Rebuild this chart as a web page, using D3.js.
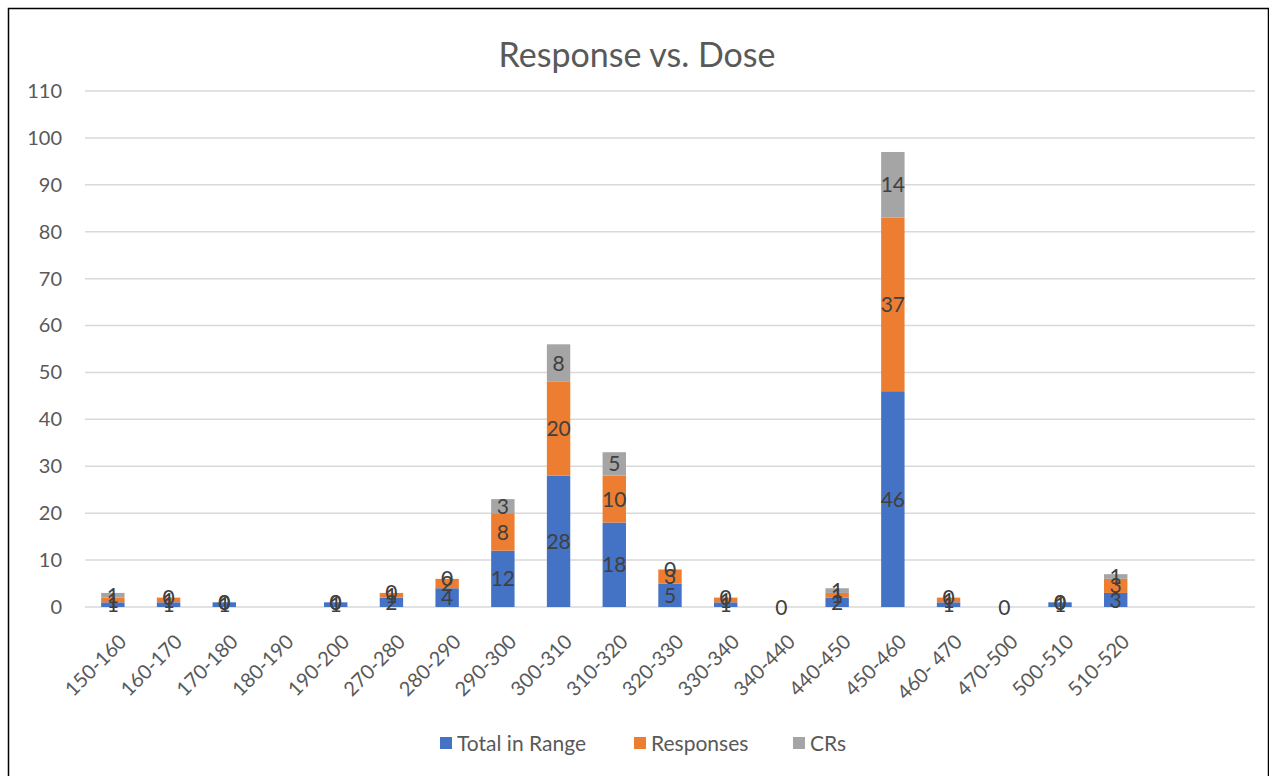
<!DOCTYPE html>
<html>
<head>
<meta charset="utf-8">
<script src="https://cdn.jsdelivr.net/npm/d3@7"></script>
<style>
  body { margin: 0; background: #fff; }
  svg { display: block; font-family: Lato, "Open Sans", sans-serif; }
</style>
</head>
<body>
<div id="wrapper"></div>
<script>
// chart values
const categories = ["150-160", "160-170", "170-180", "180-190", "190-200", "270-280", "280-290",
    "290-300", "300-310", "310-320", "320-330", "330-340", "340-440", "440-450", "450-460",
    "460- 470", "470-500", "500-510", "510-520", "", ""]
const totalInRange = [1, 1, 1, null, 1, 2, 4, 12, 28, 18, 5, 1, 0, 2, 46, 1, 0, 1, 3, null, null]
const responses = [1, 1, 0, null, 0, 1, 2, 8, 20, 10, 3, 1, null, 1, 37, 1, null, 0, 3, null, null]
const crs = [1, 0, 0, null, 0, 0, 0, 3, 8, 5, 0, 0, null, 1, 14, 0, null, 0, 1, null, null]
const seriesNames = ["Total in Range", "Responses", "CRs"]
const seriesColors = ["#4472C4", "#ED7D31", "#A5A5A5"]
const yTicks = [0, 10, 20, 30, 40, 50, 60, 70, 80, 90, 100, 110]

const seriesValues = [totalInRange, responses, crs]

let dimensions = {
    width: 1269,
    height: 776,
    margin: { top: 91, right: 14, bottom: 169, left: 85 },
}
dimensions.boundedWidth = dimensions.width - dimensions.margin.left - dimensions.margin.right
dimensions.boundedHeight = dimensions.height - dimensions.margin.top - dimensions.margin.bottom

const wrapper = d3.select("#wrapper")
    .append("svg")
    .attr("width", dimensions.width)
    .attr("height", dimensions.height)

// outer frame
wrapper.append("rect")
    .attr("x", 8.5)
    .attr("y", 8.5)
    .attr("width", dimensions.width - 9)
    .attr("height", dimensions.height)
    .attr("fill", "#fff")
    .attr("stroke", "#000")
    .attr("stroke-width", 1.5)

wrapper.append("text")
    .attr("x", 637)
    .attr("y", 67)
    .attr("text-anchor", "middle")
    .attr("fill", "#595959")
    .style("font-size", "34px")
    .text("Response vs. Dose")

const bounds = wrapper.append("g")
    .attr("transform", `translate(${dimensions.margin.left},${dimensions.margin.top})`)

const xScale = d3.scaleBand()
    .domain(d3.range(categories.length))
    .range([0, dimensions.boundedWidth])
    .paddingInner(0.58)
    .paddingOuter(0.29)

const yScale = d3.scaleLinear()
    .domain([0, 110])
    .range([dimensions.boundedHeight, 0])

// gridlines
bounds.append("g")
    .selectAll("line")
    .data(yTicks)
    .join("line")
    .attr("x1", 0)
    .attr("x2", dimensions.boundedWidth)
    .attr("y1", d => yScale(d))
    .attr("y2", d => yScale(d))
    .attr("stroke", "#D9D9D9")
    .attr("stroke-width", 1.5)

// y axis labels
const yAxis = bounds.append("g")
    .call(d3.axisLeft(yScale).tickValues(yTicks).tickSize(0).tickPadding(23))
yAxis.select(".domain").remove()
yAxis.selectAll("text")
    .attr("fill", "#595959")
    .style("font-size", "20px")
    .style("font-family", "Lato, sans-serif")

// stacked segments
const rows = categories.map((c, i) => {
    let base = 0
    return seriesValues.map((vals, s) => {
        const v = vals[i]
        const seg = { cat: i, s, v, y0: base, y1: base + (v || 0) }
        base = seg.y1
        return seg
    })
})
const segments = rows.flat()

bounds.append("g")
    .selectAll("rect")
    .data(segments.filter(d => d.v))
    .join("rect")
    .attr("x", d => xScale(d.cat))
    .attr("width", xScale.bandwidth())
    .attr("y", d => yScale(d.y1))
    .attr("height", d => yScale(d.y0) - yScale(d.y1))
    .attr("fill", d => seriesColors[d.s])

// data labels
bounds.append("g")
    .selectAll("text")
    .data(segments.filter(d => d.v !== null))
    .join("text")
    .attr("x", d => xScale(d.cat) + xScale.bandwidth() / 2)
    .attr("y", d => yScale((d.y0 + d.y1) / 2))
    .attr("dy", "0.36em")
    .attr("text-anchor", "middle")
    .attr("fill", "#404040")
    .style("font-size", "21px")
    .text(d => d.v)

// x axis labels
const xAxis = bounds.append("g")
    .attr("transform", `translate(0,${dimensions.boundedHeight})`)
    .call(d3.axisBottom(xScale).tickFormat(i => categories[i]).tickSize(0).tickPadding(0))
xAxis.select(".domain").remove()
xAxis.selectAll("text")
    .attr("fill", "#595959")
    .style("font-size", "20px")
    .style("font-family", "Lato, sans-serif")
    .attr("text-anchor", "end")
    .attr("dy", "0.35em")
    .attr("transform", "translate(10,31) rotate(-45)")

// legend
const legendItems = [
    { x: 440, name: seriesNames[0], color: seriesColors[0] },
    { x: 634, name: seriesNames[1], color: seriesColors[1] },
    { x: 793, name: seriesNames[2], color: seriesColors[2] },
]
const legend = wrapper.append("g")
    .selectAll("g")
    .data(legendItems)
    .join("g")
    .attr("transform", d => `translate(${d.x},743)`)
legend.append("rect")
    .attr("x", 0)
    .attr("y", -6)
    .attr("width", 12)
    .attr("height", 12)
    .attr("fill", d => d.color)
legend.append("text")
    .attr("x", 17)
    .attr("dy", "0.36em")
    .attr("fill", "#595959")
    .style("font-size", "21px")
    .text(d => d.name)
</script>
</body>
</html>
